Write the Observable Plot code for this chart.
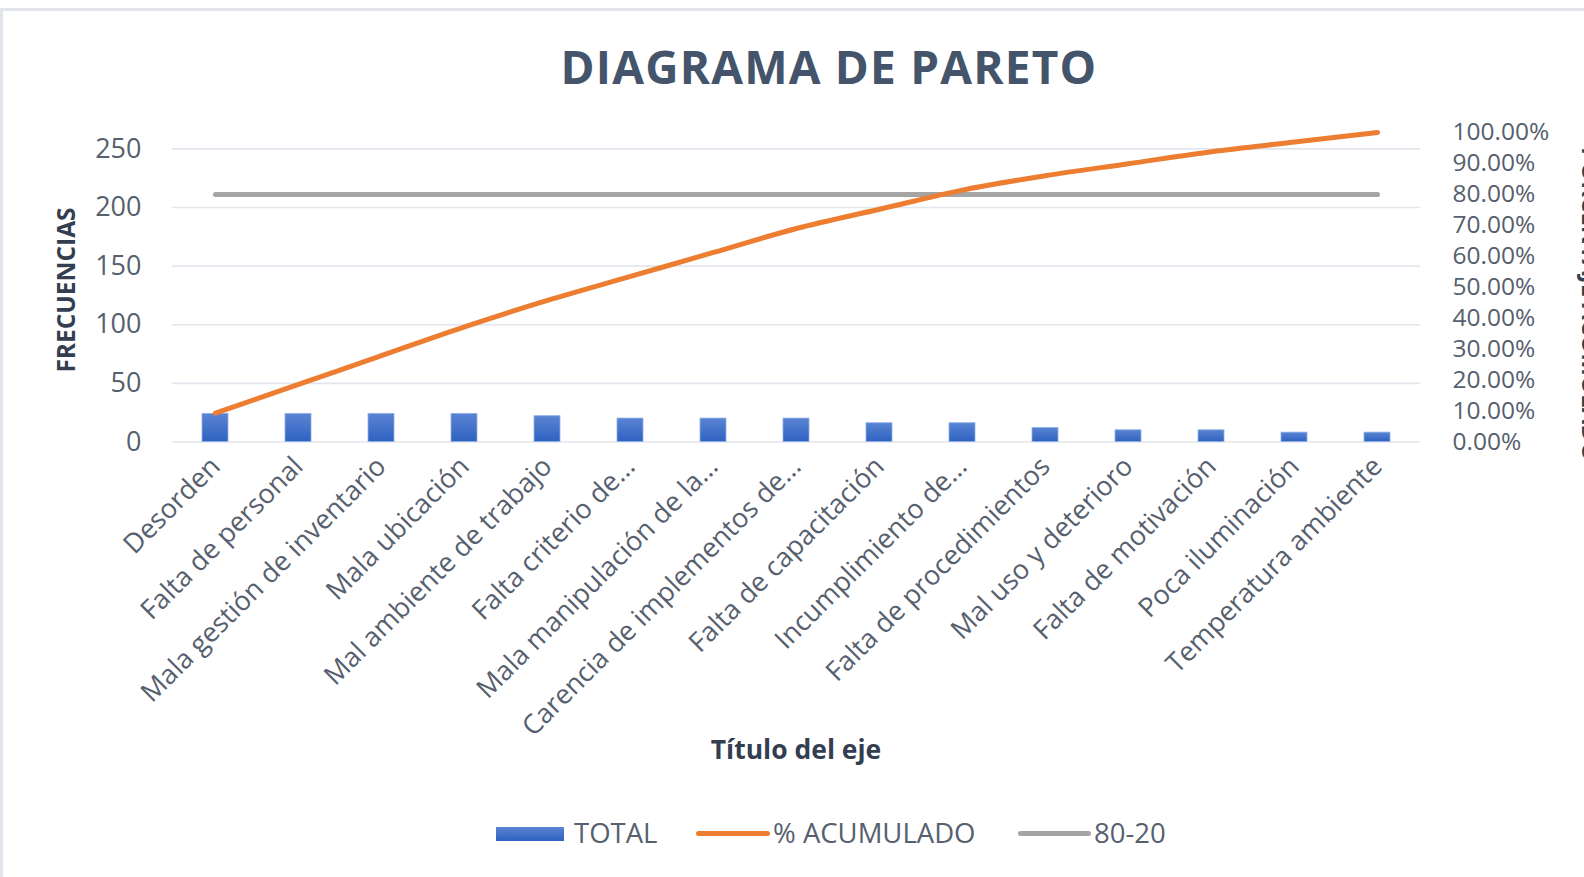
<!DOCTYPE html>
<html>
<head>
<meta charset="utf-8">
<script src="https://cdn.jsdelivr.net/npm/d3@7"></script>
<script src="https://cdn.jsdelivr.net/npm/@observablehq/plot@0.6"></script>
<style>
  html, body { margin: 0; padding: 0; background: #fff; overflow: hidden; }
  body { width: 1584px; height: 877px; position: relative; font-family: "Open Sans", sans-serif; }
  #frame { position: absolute; left: 0; top: 8px; width: 1600px; height: 900px; border-top: 3px solid #e2e6ec; border-left: 3px solid #e2e6ec; box-sizing: border-box; }
  #title { position: absolute; top: 35px; left: 829px; transform: translateX(-50%); font-size: 46px; font-weight: 700; color: #44546A; white-space: pre; letter-spacing: 1.2px; }
  #ytitle { position: absolute; left: 65px; top: 290px; transform: translate(-50%, -50%) rotate(-90deg); font-size: 24.5px; font-weight: 700; color: #333F50; white-space: nowrap; }
  #y2title { position: absolute; left: 1603px; top: 147px; line-height: 24px; transform-origin: 0 0; transform: rotate(90deg); font-size: 24px; font-weight: 700; color: #333F50; white-space: nowrap; }
  #xtitle { position: absolute; left: 796px; top: 749px; transform: translate(-50%, -50%); font-size: 26.5px; font-weight: 700; color: #333F50; white-space: nowrap; }
  #chart { position: absolute; left: 0; top: 100px; }
  #legend { position: absolute; top: 815px; left: 0; width: 1584px; height: 36px; }
  .lg { position: absolute; top: 0; font-size: 27.5px; color: #56606e; line-height: 36px; white-space: nowrap; }
  .sw { position: absolute; }
</style>
</head>
<body>
<div id="frame"></div>
<div id="title">DIAGRAMA DE PARETO</div>
<div id="ytitle">FRECUENCIAS</div>
<div id="y2title">PORCENTAJE ACUMULADO</div>
<div id="chart"></div>
<div id="xtitle">Título del eje</div>
<div id="legend">
  <div class="sw" style="left:496px; top:12px; width:68px; height:14px; background:linear-gradient(#5b84d3,#2e62c1);"></div>
  <div class="lg" style="left:574px;">TOTAL</div>
  <div class="sw" style="left:696px; top:16px; width:74px; height:5px; border-radius:3px; background:#ED7D31;"></div>
  <div class="lg" style="left:773px;">% ACUMULADO</div>
  <div class="sw" style="left:1018px; top:16px; width:73px; height:5px; border-radius:3px; background:#A5A5A5;"></div>
  <div class="lg" style="left:1094px;">80-20</div>
</div>
<script>
// ---- data ----
const categorias = [
  "Desorden",
  "Falta de personal",
  "Mala gestión de inventario",
  "Mala ubicación",
  "Mal ambiente de trabajo",
  "Falta criterio de...",
  "Mala manipulación de la...",
  "Carencia de implementos de...",
  "Falta de capacitación",
  "Incumplimiento de...",
  "Falta de procedimientos",
  "Mal uso y deterioro",
  "Falta de motivación",
  "Poca iluminación",
  "Temperatura ambiente"
];
const totales = [24, 24, 24, 24, 22, 20, 20, 20, 16, 16, 12, 10, 10, 8, 8];
const linea8020 = [0.8, 0.8, 0.8, 0.8, 0.8, 0.8, 0.8, 0.8, 0.8, 0.8, 0.8, 0.8, 0.8, 0.8, 0.8];
const ticksFrecuencia = [0, 50, 100, 150, 200, 250];
const ticksPorcentaje = [0, 0.1, 0.2, 0.3, 0.4, 0.5, 0.6, 0.7, 0.8, 0.9, 1.0];

// ---- derived table ----
const suma = d3.sum(totales);
let acc = 0;
const tabla = categorias.map((c, i) => {
  acc += totales[i];
  return { cat: c, total: totales[i], acum: acc / suma, lim: linea8020[i] };
});

// secondary axis: 100% sits at this value of the primary scale
const K = 264;

const tickColor = "#56606e";
const chart = Plot.plot({
  width: 1584,
  height: 620,
  marginTop: 32,
  marginBottom: 278.5,
  marginLeft: 172,
  marginRight: 164,
  style: { fontFamily: "Open Sans, sans-serif", background: "transparent", overflow: "visible" },
  x: { domain: categorias, paddingInner: 0.69, paddingOuter: 0.345, label: null },
  y: { domain: [0, K], label: null },
  marks: [
    Plot.gridY(ticksFrecuencia, { stroke: "#e3e6ec", strokeOpacity: 1, strokeWidth: 1.6 }),
    Plot.barY(tabla, { x: "cat", y: "total", fill: "url(#barGrad)", stroke: "#8fb0e6", strokeWidth: 0.8 }),
    Plot.line(tabla, { x: "cat", y: d => d.lim * K, stroke: "#A5A5A5", strokeWidth: 5, strokeLinecap: "round" }),
    Plot.line(tabla, { x: "cat", y: d => d.acum * K, stroke: "#ED7D31", strokeWidth: 5, strokeLinecap: "round", curve: "monotone-x" }),
    Plot.axisY(ticksFrecuencia, { anchor: "left", tickSize: 0, tickPadding: 31, fontSize: 27, color: tickColor, label: null }),
    Plot.axisY(ticksPorcentaje.map(p => p * K), {
      anchor: "right", tickSize: 0, tickPadding: 32, fontSize: 24.5, color: tickColor, label: null,
      tickFormat: v => (v / K * 100).toFixed(2) + "%"
    }),
    Plot.axisX({ anchor: "bottom", tickSize: 0, tickPadding: 20, tickRotate: -45, fontSize: 27, color: tickColor, label: null })
  ]
});

// gradient for bars
const svg = d3.select(chart);
const defs = svg.insert("defs", ":first-child");
const grad = defs.append("linearGradient").attr("id", "barGrad").attr("x1", 0).attr("y1", 0).attr("x2", 0).attr("y2", 1);
grad.append("stop").attr("offset", "0%").attr("stop-color", "#5b84d3");
grad.append("stop").attr("offset", "100%").attr("stop-color", "#2e62c1");

document.getElementById("chart").appendChild(chart);
</script>
</body>
</html>
